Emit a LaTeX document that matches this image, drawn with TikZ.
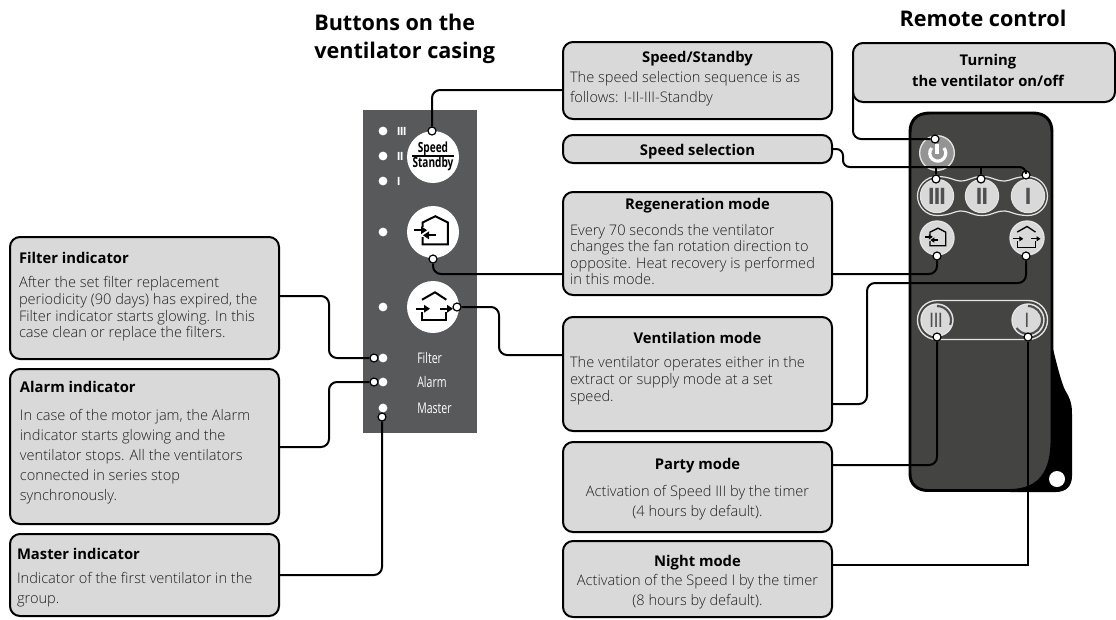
\documentclass[tikz,border=0pt]{standalone}
\usepackage{fontspec}
\setmainfont{Open Sans}
\newfontfamily\lightf{Open Sans Light}
\newfontfamily\condf[FakeStretch=0.72]{Open Sans}
\newfontfamily\barf[LetterSpace=-8]{Open Sans}
\newfontfamily\ptf[LetterSpace=-6]{Open Sans}
\usetikzlibrary{arrows.meta,calc}
\definecolor{boxfill}{HTML}{D9D9D9}
\definecolor{txt}{HTML}{1E1E1E}
\definecolor{panel}{HTML}{58595B}
\definecolor{remote}{HTML}{444442}
\definecolor{ringc}{HTML}{E4E4E4}
\definecolor{barc}{HTML}{505050}
\newcommand{\bodyfont}{\fontsize{11.1}{12}\selectfont}
% \cbox{name}{x1}{y1}{x2}{y2}{top skip px}{content}
\newcommand{\cbox}[7]{%
 \node[cbox,anchor=center] (#1) at ({(#2+#4)/2},{(#3+#5)/2})
  {\pgfmathsetlengthmacro{\bw}{(#4-#2-14)*.75pt}\pgfmathsetlengthmacro{\bh}{(#5-#3)*.75pt}\pgfmathsetlengthmacro{\bt}{#6*.75pt}%
   \parbox[c][\bh][t]{\bw}{\vspace*{\bt}\raggedright #7}};}
\newcommand{\ctitle}[1]{{\centering\bfseries\color{black}#1\par}}
\newcommand{\ltitle}[1]{{\bfseries\color{black}#1\par}}
\newcommand{\bodytxt}[2]{{\lightf\fontsize{10.95}{#1}\selectfont #2\par}}
\tikzset{
 cbox/.style={draw=black,line width=1.5pt,fill=boxfill,rounded corners=7.5pt,inner sep=0pt,inner xsep=5.25pt,outer sep=0pt,text=txt,font=\bodyfont},
 conn/.style={draw=black,line width=1.5pt,rounded corners=6pt},
 dotp/.style={circle,draw=black,line width=.9pt,fill=white,inner sep=0pt,minimum size=6pt},
 led/.style={circle,fill=white,inner sep=0pt,minimum size=6.6pt},
 bigbtn/.style={circle,fill=white,inner sep=0pt,minimum size=39pt},
 rbtn/.style={circle,fill=boxfill,draw=ringc,line width=.8pt,inner sep=0pt,minimum size=25pt},
 rsmall/.style={circle,fill=boxfill,draw=ringc,line width=1pt,inner sep=0pt,minimum size=25.5pt},
 icon/.style={draw=black,line width=1.1pt,line join=miter},
 iarrow/.style={draw=black,line width=1.1pt,-{Triangle[length=4.5pt,width=5.6pt]}},
 siarrow/.style={draw=black,line width=1pt,-{Triangle[length=3pt,width=3.8pt]}},
 ptext/.style={text=white,font=\condf\fontsize{11}{12}\selectfont,anchor=west,inner sep=0pt},
 ptbar/.style={text=white,font=\ptf\bfseries\fontsize{8.5}{10}\selectfont,anchor=west,inner sep=0pt},
 rbar/.style={text=barc,font=\barf\bfseries\fontsize{17}{18}\selectfont,inner sep=0pt},
 rbarb/.style={text=barc,font=\ptf\fontsize{15}{15}\selectfont,inner sep=0pt},
 heading/.style={font=\bfseries\fontsize{16.2}{23}\selectfont,text=black,inner sep=0pt},
}
% regen icon: #1 line width, #2 centre, #3 scale, #4 arrow style
\newcommand{\regenicon}[4][1]{%
 \begin{scope}[shift={(#2)},scale=#3]
  \draw[icon,line width=#1pt] (-10.5,-5)--(-10.5,-9.5)--(2.4,-15.8)--(14.8,-9.5)--(14.8,12.4)--(-10.5,12.4)--(-10.5,5);
  \draw[#4,line width=#1pt] (-19,-1.8)--(-6,-1.8);
  \draw[#4,line width=#1pt] (2.5,3.3)--(-10,3.3);
 \end{scope}}
\newcommand{\venticon}[4][1]{%
 \begin{scope}[shift={(#2)},scale=#3]
  \draw[icon,line width=#1pt] (-11,-7.3)--(2,-14.7)--(13.3,-7.3);
  \draw[icon,line width=#1pt] (-11,5.3)--(-11,13.3)--(13.3,13.3)--(13.3,5.3);
  \draw[#4,line width=#1pt] (-16.7,1.7)--(-3,1.7);
  \draw[#4,line width=#1pt] (7.3,1.7)--(20,1.7);
 \end{scope}}
\begin{document}
\begin{tikzpicture}[x=.75pt,y=-.75pt]
\useasboundingbox (0,0) rectangle (1116,619);
% headings
\node[heading,anchor=west] (h1a) at (314,22) {Buttons on the};
\node[heading,anchor=west] (h1b) at (314,53) {ventilator casing};
\node[heading] (h2) at (983,18) {Remote control};
% panel
\fill[panel] (363,110) rectangle (477,433);
\node[led] (l3) at (383,131) {};
\node[led] (l2) at (383,156) {};
\node[led] (l1) at (383,181) {};
\node[ptbar] (t3) at (396.5,131) {III};
\node[ptbar] (t2) at (396.5,156) {II};
\node[ptbar] (t1) at (396.5,181) {I};
\node[bigbtn] (bs) at (433,157) {};
\node[inner sep=0pt,font=\condf\bfseries\fontsize{10.5}{11}\selectfont] (bs1) at (433,149) {Speed};
\node[inner sep=0pt,font=\condf\bfseries\fontsize{10.5}{11}\selectfont] (bs2) at (433,164) {Standby};
\draw[black,line width=.9pt] (412,156)--(454,156);
\node[led] (lr) at (383,232) {};
\node[bigbtn] (br) at (433,232) {};
\regenicon[1.5]{433,232}{1}{iarrow}
\node[led] (lv) at (383,307) {};
\node[bigbtn] (bv) at (433,307) {};
\venticon[1.5]{433,307}{1}{iarrow}
\node[led] (lf) at (383,358) {};
\node[led] (la) at (383,382) {};
\node[led] (lm) at (383,408) {};
\node[ptext] (tf) at (417,358) {Filter};
\node[ptext] (ta) at (417,382) {Alarm};
\node[ptext] (tm) at (417,408) {Master};
% remote
\fill[black] (1040,300) .. controls (1052,340) and (1058,375) .. (1065,390) .. controls (1071,400) and (1072,405) .. (1072,415) -- (1072,476) .. controls (1072,486) and (1066,492) .. (1056,492) -- (1010,492) -- (1010,300) -- cycle;
\draw[fill=remote,draw=black,line width=2.2pt] (930,113) -- (1033,113) .. controls (1045,113) and (1052,120) .. (1052,132) -- (1052,440) .. controls (1052,472) and (1040,490) .. (1010,490.5) -- (928,490.5) .. controls (917,490.5) and (910,484) .. (910,474) -- (910,132) .. controls (910,120) and (917,113) .. (930,113) -- cycle;
\node[circle,fill=white,inner sep=0pt,minimum size=12pt] (hole) at (1057,479) {};
% power
\node[circle,fill=black!42,draw=ringc,line width=1pt,inner sep=0pt,minimum size=26pt] (pw) at (937,153) {};
\draw[white,line width=2.4pt] (931.6,148) arc[start angle=-140,end angle=-400,radius=8];
\draw[white,line width=2.4pt] (937,143.5)--(937,153.5);
% speed band
\draw[ringc,line width=.9pt] (937,176.5) .. controls (950,176.5) and (955,181) .. (960,181) .. controls (970,181) and (971,176.5) .. (982,176.5) .. controls (993,176.5) and (994,181) .. (1005,181) .. controls (1010,181) and (1015,176.5) .. (1028,176.5)
  arc[start angle=-90,end angle=90,radius=19.5]
  .. controls (1015,215.5) and (1010,211) .. (1005,211) .. controls (994,211) and (993,215.5) .. (982,215.5) .. controls (971,215.5) and (970,211) .. (960,211) .. controls (955,211) and (950,215.5) .. (937,215.5)
  arc[start angle=90,end angle=270,radius=19.5] -- cycle;
\node[rbtn] (s3) at (937,196) {};
\node[rbtn] (s2) at (982,196) {};
\node[rbtn] (s1) at (1028,196) {};
\node[rbar] (s3t) at (937,196) {III};
\node[rbar] (s2t) at (982,196) {II};
\node[rbar] (s1t) at (1028,196) {I};
\node[rsmall] (rr) at (937,238) {};
\regenicon[1]{936.5,238}{.62}{siarrow}
\node[rsmall] (rv) at (1027,238) {};
\venticon[1]{1025.5,237.5}{.75}{siarrow}
% party/night band
\draw[ringc,line width=1pt,rounded corners=14.5pt] (917.5,300.5) rectangle (1047.5,339.5);
\node[rsmall,minimum size=24pt] (rp) at (937,320) {};
\node[rsmall,minimum size=24pt] (rn) at (1028,320) {};
\node[rbarb] (rpt) at (936,320) {III};
\node[rbarb] (rnt) at (1027,320) {I};
\draw[barc,line width=1.6pt] (937,306) arc[start angle=-90,end angle=20,radius=14];
\draw[barc,line width=1.6pt] (1028,306) arc[start angle=-90,end angle=145,radius=14];
% boxes
\cbox{bspeed}{563}{42}{832}{119}{9}{\ctitle{Speed/Standby}\bodytxt{15}{The speed selection sequence is as\\follows: I-II-III-Standby}}
\cbox{bturn}{853}{43}{1115}{102}{11}{\fontsize{11.1}{16}\selectfont\ctitle{\hspace*{6pt}Turning\\\hspace*{6pt}the ventilator on/off}}
\cbox{bsel}{563}{135}{832}{163}{9}{\ctitle{Speed selection}}
\cbox{bregen}{563}{192}{832}{295}{6}{\ctitle{Regeneration mode}\vspace{7pt}\bodytxt{12.4}{Every 70 seconds the ventilator\\changes the fan rotation direction to\\opposite. Heat recovery is performed\\in this mode.}}
\cbox{bvent}{563}{317}{832}{431}{15}{\ctitle{Ventilation mode}\vspace{5.7pt}\bodytxt{12.6}{The ventilator operates either in the\\extract or supply mode at a set\\speed.}}
\cbox{bparty}{563}{442}{832}{532}{16}{\ctitle{Party mode}\vspace{6pt}\bodytxt{14.6}{\centering Activation of Speed III by the timer\\(4 hours by default).}}
\cbox{bnight}{563}{541}{832}{617}{14}{\ctitle{Night mode}\bodytxt{14.6}{\centering Activation of the Speed I by the timer\\(8 hours by default).}}
\cbox{bfilt}{10}{237}{279}{359}{15}{\leftskip=1.5pt\ltitle{Filter indicator}\vspace{6pt}\bodytxt{12.5}{After the set filter replacement\\periodicity (90 days) has expired, the\\Filter indicator starts glowing. In this\\case clean or replace the filters.}}
\cbox{balarm}{10}{369}{279}{524}{12}{\leftskip=2.2pt\ltitle{Alarm indicator}\vspace{6pt}\bodytxt{15}{In case of the motor jam, the Alarm\\indicator starts glowing and the\\ventilator stops. All the ventilators\\connected in series stop\\synchronously.}}
\cbox{bmast}{10}{534}{279}{616}{14}{\ltitle{Master indicator}\vspace{3pt}\bodytxt{15}{Indicator of the first ventilator in the\\group.}}
% connection dots
\node[dotp] (ds) at (432,131) {};
\node[dotp] (dr) at (433,259) {};
\node[dotp] (dv) at (457,307) {};
\node[dotp] (df) at (374,358) {};
\node[dotp] (da) at (374,382) {};
\node[dotp] (dm) at (382,417) {};
\node[dotp] (dpw) at (935,139) {};
\node[dotp] (d3) at (936,179) {};
\node[dotp] (d2) at (981,179) {};
\node[dotp] (d1) at (1026,175) {};
\node[dotp] (drr) at (937,256) {};
\node[dotp] (drv) at (1026,256) {};
\node[dotp] (dp) at (937,337) {};
\node[dotp] (dn) at (1028,337) {};
% connectors
\coordinate (j3) at (936,167);
\coordinate (j2) at (981,167);
\draw[conn] (bspeed.west |- 0,90) -- (432,90) -- (ds);
\draw[conn] (bregen.west |- 0,274) -- (433,274) -- (dr);
\draw[conn] (bregen.east |- 0,274) -- (937,274) -- (drr);
\draw[conn] (dv) -- (499,307) -- (499,355) -- (bvent.west |- 0,355);
\draw[conn] (bvent.east |- 0,404) -- (867,404) -- (867,283) -- (1026,283) -- (drv);
\draw[conn] (bparty.east |- 0,465) -- (937,465) -- (dp);
\draw[line width=1.5pt] (bnight.east |- 0,565) -- (1028,565) -- (dn);
\draw[conn] (bturn.west |- 0,92) -- (853,139) -- (dpw);
\draw[conn,rounded corners=5pt] (bsel.east) -- (843,149) -- (843,167) -- (1026,167) -- (d1);
\draw[line width=1.5pt] (j3) -- (d3);
\draw[line width=1.5pt] (j2) -- (d2);
\draw[conn] (bfilt.east |- 0,296) -- (329,296) -- (329,358) -- (df);
\draw[conn] (balarm.east |- 0,447) -- (329,447) -- (329,382) -- (da);
\draw[conn] (bmast.east |- 0,575) -- (382,575) -- (dm);
\end{tikzpicture}
\end{document}
